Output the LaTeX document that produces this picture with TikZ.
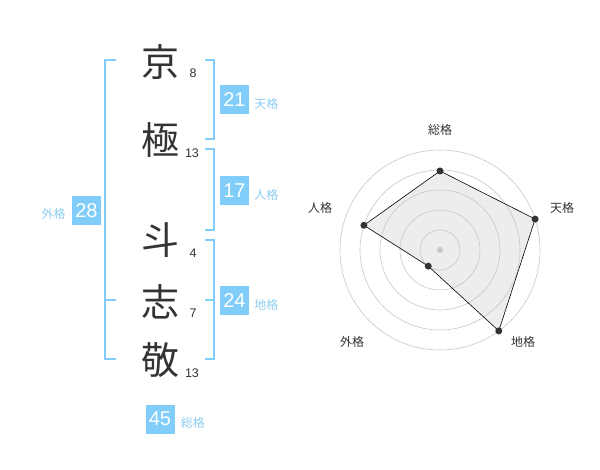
\documentclass[tikz,border=0pt]{standalone}
\usepackage{fontspec}
\setmainfont{Liberation Sans}
\newfontfamily\jpfont{Noto Sans CJK JP}
\usetikzlibrary{positioning}
\definecolor{kakublue}{RGB}{128,205,250}
\definecolor{kakuname}{RGB}{140,205,240}
\definecolor{inkgray}{RGB}{51,51,51}

\begin{document}
\begin{tikzpicture}[x=1pt,y=-1pt,
	kanji/.style={font=\jpfont\fontsize{38}{38}\selectfont,text=inkgray,inner sep=0pt},
	strokes/.style={font=\fontsize{12.5}{12.5}\selectfont,text=inkgray,inner sep=0pt},
	numbox/.style={fill=kakublue,text=white,minimum size=29pt,inner sep=0pt,font=\fontsize{20}{20}\selectfont},
	kakulabel/.style={font=\jpfont\fontsize{12}{12}\selectfont,text=kakuname,inner sep=0pt},
	axislabel/.style={font=\jpfont\fontsize{12}{12}\selectfont,text=inkgray,inner sep=0pt},
	bracket/.style={draw=kakublue,line width=2pt}]
		\useasboundingbox (0,0) rectangle (600,470);
		
		% name and strokes
		\node[kanji] (k1) at (160,62) {京};
		\node[kanji] (k2) at (160,140) {極};
		\node[kanji] (k3) at (160,240) {斗};
		\node[kanji] (k4) at (160,302) {志};
		\node[kanji] (k5) at (160,360) {敬};
		\node[strokes] (s1) at (193,73) {8};
		\node[strokes] (s2) at (192,153) {13};
		\node[strokes] (s3) at (193,253) {4};
		\node[strokes] (s4) at (193,313) {7};
		\node[strokes] (s5) at (192,373) {13};
		
		% brackets
		\draw[bracket] (116,60) -- (105,60) -- (105,359) -- (116,359);
		\draw[bracket] (105,300) -- (116,300);
		\draw[bracket] (205,60) -- (214,60) -- (214,139) -- (205,139);
		\draw[bracket] (205,149) -- (214,149) -- (214,230) -- (205,230);
		\draw[bracket] (205,240) -- (214,240) -- (214,359) -- (205,359);
		\draw[bracket] (205,300) -- (214,300);
		
		% totals
		\node[numbox] (ten) at (234.5,99.5) {21};
		\node[kakulabel,right=5pt of ten,yshift=-4pt] (tenl) {天格};
		\node[numbox] (jin) at (234.5,190.5) {17};
		\node[kakulabel,right=5pt of jin,yshift=-4pt] (jinl) {人格};
		\node[numbox] (chi) at (234.5,300.5) {24};
		\node[kakulabel,right=5pt of chi,yshift=-4pt] (chil) {地格};
		\node[numbox] (gai) at (86.5,210.5) {28};
		\node[kakulabel,left=6pt of gai,yshift=-3pt] (gail) {外格};
		\node[numbox] (sou) at (160,419) {45};
		\node[kakulabel,right=6pt of sou,yshift=-4pt] (soul) {総格};
		
		% radar
		\coordinate (ctr) at (440,250);
		\coordinate (rs) at ([shift={(90:79pt)}]ctr);
		\coordinate (rt) at ([shift={(18:100pt)}]ctr);
		\coordinate (rc) at ([shift={(-54:100pt)}]ctr);
		\coordinate (rg) at ([shift={(-126:20pt)}]ctr);
		\coordinate (rj) at ([shift={(162:80pt)}]ctr);
		\fill[black!7] (rs) -- (rt) -- (rc) -- (rg) -- (rj) -- cycle;
		\foreach \r in {20,40,60,80,100}
			\draw[black!22,line width=0.6pt] (ctr) circle (\r pt);
		\fill[black!22] (ctr) circle (3pt);
		\draw[black,line width=0.6pt] (rs) -- (rt) -- (rc) -- (rg) -- (rj) -- cycle;
		\foreach \p in {rs,rt,rc,rg,rj}
			\fill[inkgray] (\p) circle (3.5pt);
		\node[axislabel] (as) at (440,130) {総格};
		\node[axislabel] (at) at (562,208) {天格};
		\node[axislabel] (ac) at (523,342) {地格};
		\node[axislabel] (ag) at (352,342) {外格};
		\node[axislabel] (aj) at (320,208) {人格};
	\end{tikzpicture}
\end{document}
